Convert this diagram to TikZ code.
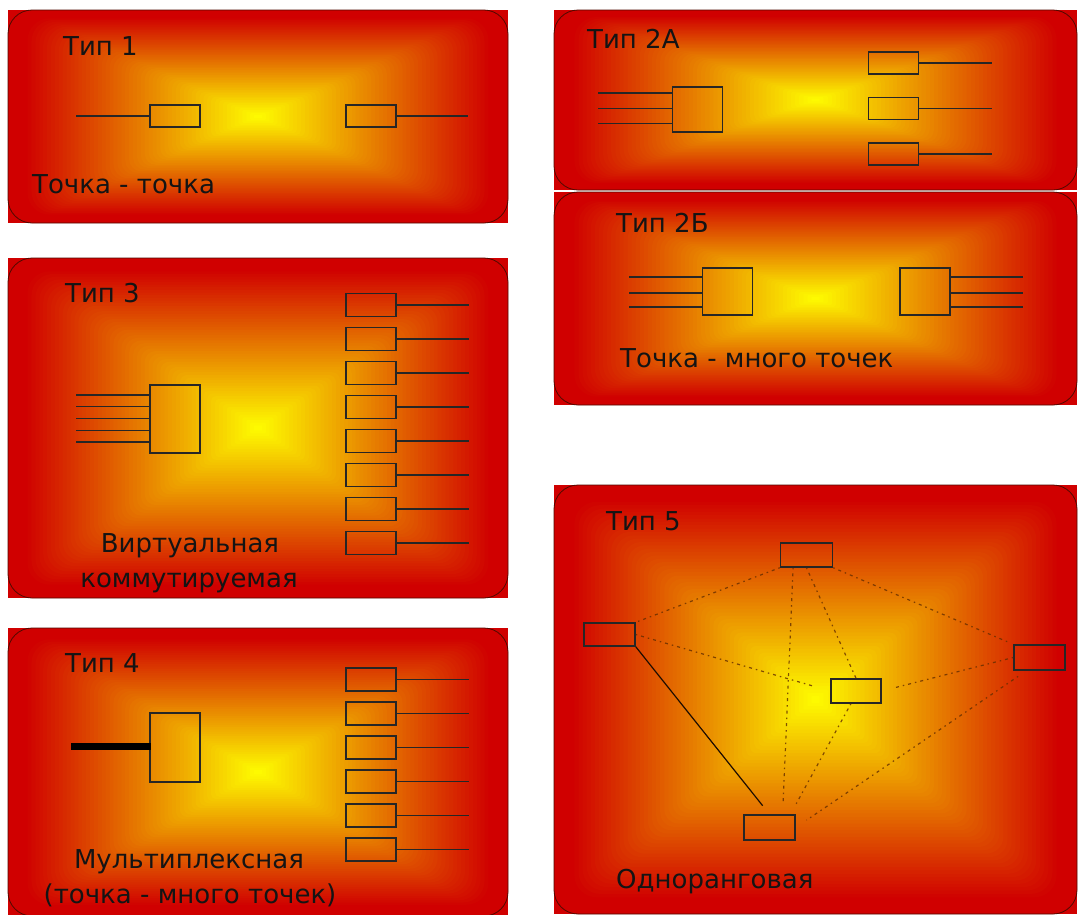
\documentclass[tikz,border=0pt]{standalone}
\usepackage{fontspec}
\setmainfont{DejaVu Sans}
\usetikzlibrary{calc}
\definecolor{pred}{RGB}{208,0,0}
\definecolor{pborder}{RGB}{80,10,0}
\definecolor{webc}{RGB}{100,45,0}
\newcommand\gradpanel[4]{%
  \fill[pred] (#1,#2) rectangle (#3,#4);
  \pgfmathsetmacro\gpcx{(#1+#3)/2}%
  \pgfmathsetmacro\gpcy{(#2+#4)/2}%
  \pgfmathsetmacro\gphw{(#3-#1)/2}%
  \pgfmathsetmacro\gphh{(#4-#2)/2}%
  \foreach \gpi in {0,...,63}{%
    \pgfmathsetmacro\gpS{1-\gpi/64}%
    \pgfmathsetmacro\gpU{max(0,min(1,(\gpi/64-0.06)/0.94))}%
    \pgfmathtruncatemacro\gpG{255*\gpU}%
    \pgfmathtruncatemacro\gpR{208+47*\gpU}%
    \pgfmathsetmacro\gpRC{max(0.5,24*\gpS)}%
    \definecolor{gptmp}{RGB}{\gpR,\gpG,0}%
    \fill[gptmp, rounded corners=\gpRC pt] (\gpcx-\gphw*\gpS,\gpcy-\gphh*\gpS) rectangle (\gpcx+\gphw*\gpS,\gpcy+\gphh*\gpS);
  }%
  \draw[pborder, line width=0.8pt, rounded corners=24pt] (#1,#2) rectangle (#3,#4);
}
\begin{document}
\begin{tikzpicture}[x=1pt,y=-1pt,
  box/.style={draw=black!85, line width=1.5pt, minimum width=50pt, minimum height=23pt, inner sep=0pt},
  bigbox/.style={box, minimum height=#1},
  wire/.style={draw=black!85, line width=1.4pt},
  web/.style={draw=webc, line width=1.2pt, dash pattern=on 1.5pt off 4pt on 3pt off 4pt, opacity=0.8},
  lbl/.style={font=\fontsize{26}{31}\selectfont, inner sep=0pt, text=black!92}]
\useasboundingbox (0,0) rectangle (1078,914);
\clip (0,0) rectangle (1078,914);
\fill[white] (0,0) rectangle (1078,914);

% panels
\gradpanel{8}{10}{508}{223}
\gradpanel{8}{258}{508}{598}
\gradpanel{8}{628}{508}{916}
\gradpanel{554}{10}{1077}{190}
\gradpanel{554}{192}{1077}{405}
\gradpanel{554}{485}{1077}{914}

% ---------- Type 1
\node[lbl, anchor=base west] (t1) at (63,55) {Тип 1};
\node[lbl, anchor=base west] (n1) at (32,193) {Точка - точка};
\node[box, minimum height=22pt] (l1) at (175,116) {};
\node[box, minimum height=22pt] (r1) at (371,116) {};
\coordinate (l1e) at (76,116);
\coordinate (r1e) at (468,116);
\draw[wire] (l1e) -- (l1.west);
\draw[wire] (r1.east) -- (r1e);

% ---------- Type 3
\node[lbl, anchor=base west] (t3) at (65,302) {Тип 3};
\node[lbl, anchor=base] (n3a) at (190,552) {Виртуальная};
\node[lbl, anchor=base] (n3b) at (189,587) {коммутируемая};
\node[bigbox=68pt] (c3) at (175,419) {};
\foreach \k in {0,...,4}{
  \coordinate (a3\k) at (76,395+11.75*\k);
  \draw[wire] (a3\k) -- (a3\k -| c3.west);
}
\foreach \k in {0,...,7}{
  \node[box] (r3\k) at (371,305+34*\k) {};
  \coordinate (e3\k) at (469,305+34*\k);
  \draw[wire] (r3\k.east) -- (e3\k);
}

% ---------- Type 4
\node[lbl, anchor=base west] (t4) at (65,672) {Тип 4};
\node[lbl, anchor=base] (n4a) at (189,868) {Мультиплексная};
\node[lbl, anchor=base] (n4b) at (190,903) {(точка - много точек)};
\node[bigbox=69pt] (c4) at (175,747.5) {};
\coordinate (m4) at (71,746);
\draw[draw=black, line width=7pt] (m4) -- ($(m4 -| c4.west)+(2,0)$);
\foreach \k in {0,...,5}{
  \node[box] (r4\k) at (371,679.3+34*\k) {};
  \coordinate (e4\k) at (469,679.3+34*\k);
  \draw[wire] (r4\k.east) -- (e4\k);
}

% ---------- Type 2A
\node[lbl, anchor=base west] (t2a) at (587,48) {Тип 2А};
\node[bigbox=45pt] (c2a) at (697.5,109.5) {};
\foreach \y [count=\k] in {93,108.3,123.3}{
  \coordinate (a2\k) at (598,\y);
  \draw[wire] (a2\k) -- (a2\k -| c2a.west);
}
\foreach \y [count=\k] in {63,108.5,154}{
  \node[box, minimum height=22pt] (r2\k) at (893.5,\y) {};
  \coordinate (e2\k) at (991.5,\y);
  \draw[wire] (r2\k.east) -- (e2\k);
}

% ---------- Type 2B
\node[lbl, anchor=base west] (t2b) at (616,232) {Тип 2Б};
\node[lbl, anchor=base west] (n2) at (620,367) {Точка - много точек};
\node[bigbox=47pt] (c2b) at (727.5,291.5) {};
\node[bigbox=47pt] (d2b) at (925,291.5) {};
\foreach \y [count=\k] in {277,293,307}{
  \coordinate (a5\k) at (629,\y);
  \draw[wire] (a5\k) -- (a5\k -| c2b.west);
  \coordinate (e5\k) at (1023,\y);
  \draw[wire] (e5\k -| d2b.east) -- (e5\k);
}

% ---------- Type 5
\node[lbl, anchor=base west] (t5) at (606,530) {Тип 5};
\node[lbl, anchor=base west] (n5) at (616,888) {Одноранговая};
\node[box, minimum width=52pt, minimum height=24pt] (T) at (806.5,555) {};
\node[box, minimum width=51pt, minimum height=23pt] (L) at (609.5,634.5) {};
\node[box, minimum width=50pt, minimum height=24pt] (C) at (856,691) {};
\node[box, minimum width=51pt, minimum height=25pt] (R) at (1039.5,657.5) {};
\node[box, minimum width=51pt, minimum height=25pt] (B) at (769.5,827.5) {};
\draw[draw=black!70!webc, line width=1.2pt, shorten >=11pt] (L.south east) -- (B.north);
\draw[web] (T.south west) -- (L.north east);
\draw[web, shorten >=18pt] (L.east) -- (C.west);
\draw[web, shorten >=12pt] ($(T.south west)!0.25!(T.south east)$) -- ($(B.north west)!0.75!(B.north east)$);
\draw[web] (T.south) -- (C.north);
\draw[web, shorten >=3pt] (T.south east) -- (R.north west);
\draw[web, shorten >=12pt] (R.west) -- (C.east);
\draw[web, shorten <=10pt, shorten >=13pt] ($(R.south west)!0.25!(R.south east)$) -- (B.east);
\draw[web, shorten >=12pt] ($(C.south west)!0.4!(C.south east)$) -- ($(B.north west)!0.9!(B.north east)$);
\end{tikzpicture}
\end{document}
